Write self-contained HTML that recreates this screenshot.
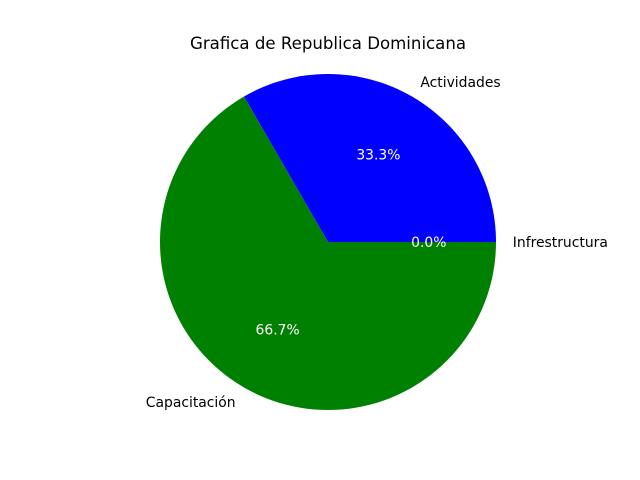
<!DOCTYPE html>
<html><head><meta charset="utf-8"><style>
body{margin:0;background:#fff}
svg{display:block}
text{font-family:"DejaVu Sans","Liberation Sans",sans-serif}
</style></head><body>
<svg id="chart" width="640" height="480">
<text x="328" y="49" text-anchor="middle" font-size="16.6">Grafica de Republica Dominicana</text>
<g id="slices"></g>
<g id="labels"></g>
</svg>
<script>
const categories = ["Infrestructura", "Actividades", "Capacitación"];
const values = [0, 1, 2];
const colors = ["red", "blue", "green"];
const cx = 328, cy = 242, r = 168;
const ns = "http://www.w3.org/2000/svg";
const g = document.getElementById("slices");
const gl = document.getElementById("labels");
const total = values.reduce((a, b) => a + b, 0);
let start = 0;
function pt(a, rad) { return [cx + rad * Math.cos(a), cy - rad * Math.sin(a)]; }
values.forEach((v, i) => {
  const frac = v / total;
  const end = start + frac * 2 * Math.PI;
  if (frac > 0) {
    const [x1, y1] = pt(start, r), [x2, y2] = pt(end, r);
    const large = (end - start) > Math.PI ? 1 : 0;
    const p = document.createElementNS(ns, "path");
    p.setAttribute("d", `M${cx},${cy} L${x1},${y1} A${r},${r} 0 ${large} 0 ${x2},${y2} Z`);
    p.setAttribute("fill", colors[i]);
    
    
    g.appendChild(p);
  }
  const mid = (start + end) / 2;
  const [lx, ly] = pt(mid, r * 1.1);
  const t = document.createElementNS(ns, "text");
  t.setAttribute("x", lx); t.setAttribute("y", ly + 5);
  t.setAttribute("font-size", "13.9");
  t.setAttribute("text-anchor", Math.cos(mid) >= 0 ? "start" : "end");
  t.textContent = categories[i];
  
  
  gl.appendChild(t);
  const [px, py] = pt(mid, r * 0.6);
  const pc = document.createElementNS(ns, "text");
  pc.setAttribute("x", px); pc.setAttribute("y", py + 5);
  pc.setAttribute("font-size", "13.9");
  pc.setAttribute("fill", "#fff");
  pc.setAttribute("text-anchor", "middle");
  pc.textContent = (frac * 100).toFixed(1) + "%";
  
  
  gl.appendChild(pc);
  start = end;
});
</script>
</body></html>
